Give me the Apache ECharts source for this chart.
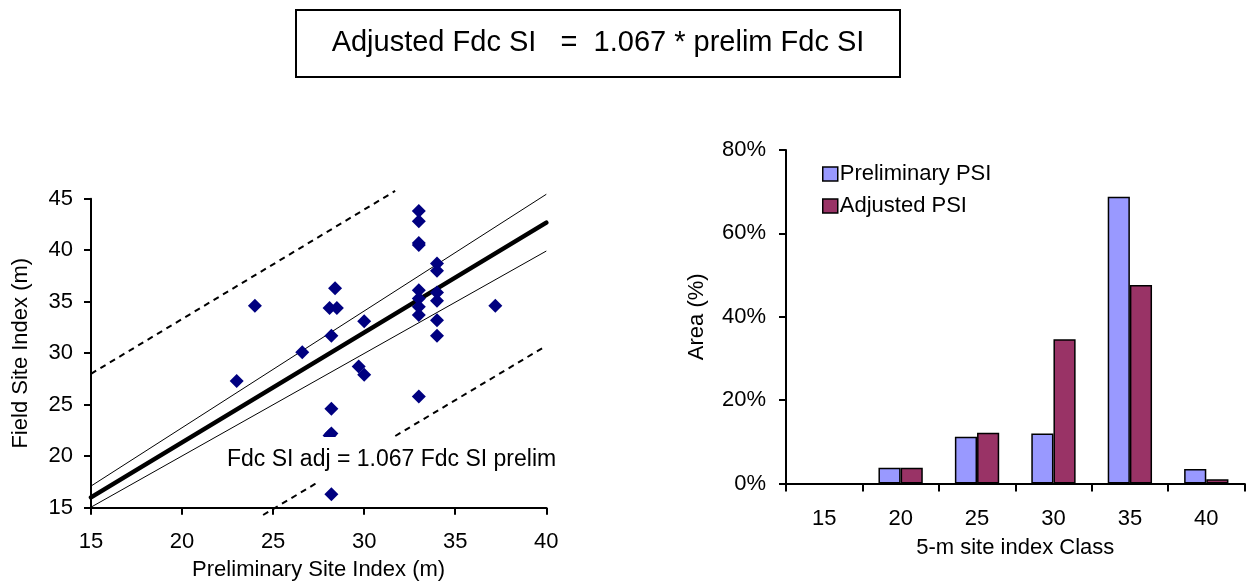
<!DOCTYPE html>
<html>
<head>
<meta charset="utf-8">
<script src="https://cdn.jsdelivr.net/npm/echarts@6/dist/echarts.min.js"></script>
<style>
html,body{margin:0;padding:0;background:#fff;}
#chart{width:1247px;height:582px;}
</style>
</head>
<body>
<div id="chart"></div>
<script>
// ---- Data ----
const prelimSI = [24.0, 23.0, 26.6, 28.4, 28.1, 28.5, 28.2, 28.2, 28.2, 28.1, 28.2, 30.0, 29.7, 30.0,
                  33.0, 33.0, 33.0, 33.0, 33.0, 33.0, 33.0, 33.0, 33.0,
                  34.0, 34.0, 34.0, 34.0, 34.0, 34.0, 37.2];
const fieldSI  = [34.6, 27.3, 30.1, 36.3, 34.4, 34.4, 31.7, 24.6, 22.2, 22.0, 16.3, 33.1, 28.7, 27.9,
                  43.8, 42.8, 40.7, 40.5, 36.1, 35.3, 34.5, 33.7, 25.8,
                  38.7, 38.0, 35.9, 35.1, 33.2, 31.7, 34.6];
const fitLine   = [[15, 16.0], [40, 42.68]];
const upperCI   = [[15, 17.1], [40, 45.43]];
const lowerCI   = [[15, 15.05], [40, 39.92]];
const upperPI   = [[15, 28.0], [31.7, 45.75]];
const lowerPI   = [[24.45, 14.29], [39.77, 30.48]];

const siClasses      = ['15', '20', '25', '30', '35', '40'];
const preliminaryPSI = [0, 3.8, 11.2, 12.0, 68.8, 3.5];
const adjustedPSI    = [0, 3.8, 12.2, 34.6, 47.6, 1.0];
const pctTicks       = [0, 20, 40, 60, 80];

const titleText = 'Adjusted Fdc SI   =  1.067 * prelim Fdc SI';
const fitLabel  = 'Fdc SI adj = 1.067 Fdc SI prelim';

// ---- Chart ----
const FONT = 'Liberation Sans';
const axisBase = {
  axisLine: { show: true, onZero: false, lineStyle: { color: '#000', width: 2 } },
  axisTick: { show: true, inside: false, length: 7, lineStyle: { color: '#000', width: 2 } },
  splitLine: { show: false },
  nameLocation: 'middle',
  nameTextStyle: { color: '#000', fontSize: 22, fontFamily: FONT }
};
function lab(margin, extra) {
  return Object.assign({ color: '#000', fontSize: 22, fontFamily: FONT, margin: margin }, extra || {});
}
// empty classes (0 %) draw no bar at all, as in the reference
const barData = arr => arr.map(v => (v === 0 ? '-' : v));

const chart = echarts.init(document.getElementById('chart'), null, { renderer: 'canvas' });
chart.setOption({
  animation: false,
  backgroundColor: '#fff',
  grid: [
    { left: 91, top: 198.7, width: 455.3, height: 309, containLabel: false, outerBoundsMode: 'none' },
    { left: 786, top: 150, width: 458.5, height: 333.5, containLabel: false, outerBoundsMode: 'none' }
  ],
  xAxis: [
    Object.assign({}, axisBase, {
      gridIndex: 0, type: 'value', min: 15, max: 40, interval: 5,
      axisLabel: lab(23),
      name: 'Preliminary Site Index (m)', nameGap: 51
    }),
    Object.assign({}, axisBase, {
      gridIndex: 1, type: 'category', data: siClasses, boundaryGap: true,
      axisTick: { show: true, length: 8, alignWithLabel: false, lineStyle: { color: '#000', width: 2 } },
      axisLabel: lab(24),
      name: '5-m site index Class', nameGap: 53
    })
  ],
  yAxis: [
    Object.assign({}, axisBase, {
      gridIndex: 0, type: 'value', min: 15, max: 45, interval: 5,
      axisLabel: lab(18),
      name: 'Field Site Index (m)', nameGap: 59
    }),
    Object.assign({}, axisBase, {
      gridIndex: 1, type: 'value', min: pctTicks[0], max: pctTicks[pctTicks.length - 1],
      interval: pctTicks[1] - pctTicks[0],
      axisLabel: lab(20, { formatter: '{value}%' }),
      name: 'Area (%)', nameGap: 78
    })
  ],
  legend: {
    orient: 'vertical', left: 822, top: 163, padding: 0,
    itemWidth: 15, itemHeight: 14, itemGap: 10,
    icon: 'rect',
    itemStyle: { borderColor: '#000', borderWidth: 1.5 },
    textStyle: { color: '#000', fontSize: 22, fontFamily: FONT, padding: [0, 0, 0, -3] },
    data: ['Preliminary PSI', 'Adjusted PSI']
  },
  series: [
    { type: 'line', xAxisIndex: 0, yAxisIndex: 0, data: upperPI, symbol: 'none', clip: false,
      lineStyle: { color: '#000', width: 2, type: [6, 5] }, silent: true, z: 2 },
    { type: 'line', xAxisIndex: 0, yAxisIndex: 0, data: lowerPI, symbol: 'none', clip: false,
      lineStyle: { color: '#000', width: 2, type: [6, 5] }, silent: true, z: 2 },
    { type: 'line', xAxisIndex: 0, yAxisIndex: 0, data: upperCI, symbol: 'none', clip: false,
      lineStyle: { color: '#000', width: 1 }, silent: true, z: 2 },
    { type: 'line', xAxisIndex: 0, yAxisIndex: 0, data: lowerCI, symbol: 'none', clip: false,
      lineStyle: { color: '#000', width: 1 }, silent: true, z: 2 },
    { type: 'line', xAxisIndex: 0, yAxisIndex: 0, data: fitLine, symbol: 'none', clip: false,
      lineStyle: { color: '#000', width: 4.5, cap: 'round' }, silent: true, z: 3 },
    { type: 'scatter', xAxisIndex: 0, yAxisIndex: 0, name: 'Field vs preliminary',
      data: prelimSI.map((x, i) => [x, fieldSI[i]]),
      symbol: 'diamond', symbolSize: [14, 14],
      itemStyle: { color: '#000080', opacity: 1 }, z: 4 },
    { type: 'bar', xAxisIndex: 1, yAxisIndex: 1, name: 'Preliminary PSI', data: barData(preliminaryPSI),
      barGap: '0%', barCategoryGap: '42%',
      itemStyle: { color: '#9999FF', borderColor: '#000', borderWidth: 1.5 } },
    { type: 'bar', xAxisIndex: 1, yAxisIndex: 1, name: 'Adjusted PSI', data: barData(adjustedPSI),
      barGap: '0%', barCategoryGap: '42%',
      itemStyle: { color: '#993366', borderColor: '#000', borderWidth: 1.5 } }
  ],
  graphic: [
    { type: 'rect', z: 100, shape: { x: 296, y: 10, width: 604, height: 67 },
      style: { fill: '#fff', stroke: '#000', lineWidth: 2 } },
    { type: 'text', z: 101, x: 598, y: 43,
      style: { text: titleText, fill: '#000', font: '29px "' + FONT + '"',
               textAlign: 'center', textVerticalAlign: 'middle' } },
    { type: 'text', z: 100, x: 223, y: 460,
      style: { text: fitLabel, fill: '#000', font: '23px "' + FONT + '"',
               textAlign: 'left', textVerticalAlign: 'middle',
               backgroundColor: '#fff', padding: [11, 4, 12, 4] } }
  ]
});
</script>
</body>
</html>
